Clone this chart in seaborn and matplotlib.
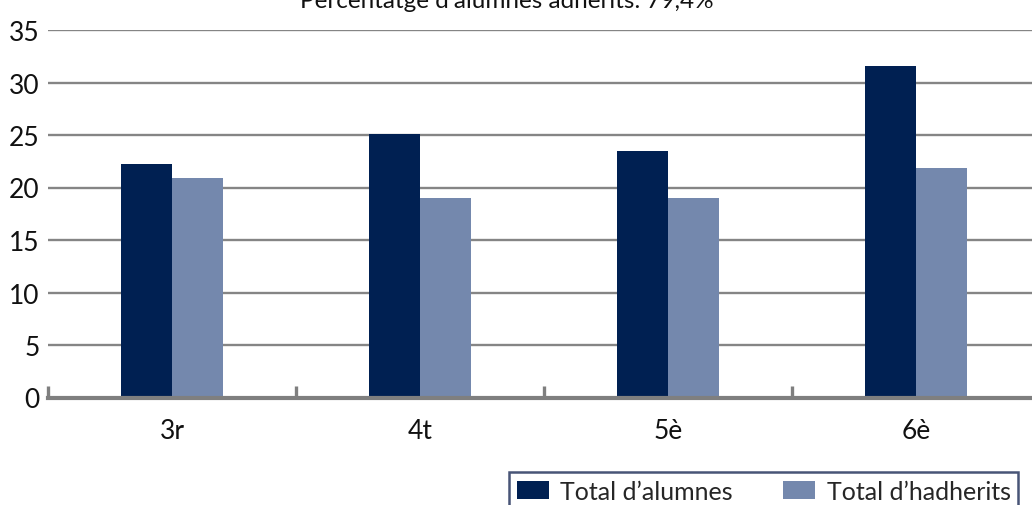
import pandas as pd
import matplotlib.pyplot as plt
import seaborn as sns

# Dades llegides del gràfic
cursos = ["3r", "4t", "5è", "6è"]
total_alumnes = [22.2, 25.1, 23.5, 31.6]
total_adherits = [20.9, 19.0, 19.0, 21.9]
series = ["Total d’alumnes", "Total d’hadherits"]
colors = ["#002052", "#7488ad"]
titol = "Percentatge d’alumnes adherits: 79,4%"

df = pd.DataFrame({
    "curs": cursos * 2,
    "valor": total_alumnes + total_adherits,
    "serie": [series[0]] * len(cursos) + [series[1]] * len(cursos),
})

sns.set_theme(style="white")
plt.rcParams["font.family"] = ["Lato", "DejaVu Sans"]

fig = plt.figure(figsize=(10.32, 5.06), dpi=100)
ax = fig.add_axes([48 / 1032, 107.5 / 506, 992 / 1032, 367.5 / 506])

sns.barplot(data=df, x="curs", y="valor", hue="serie", palette=colors,
            width=0.415, saturation=1, linewidth=0, edgecolor="none",
            ax=ax, legend=True)

ax.set_ylim(0, 35)
ax.set_xlim(-0.5, 3.5)
ax.set_yticks(range(0, 36, 5))
ax.yaxis.grid(True, color="#858585", linewidth=1.7)
ax.set_axisbelow(True)
ax.set_xlabel("")
ax.set_ylabel("")

for s in ["top", "right", "left"]:
    ax.spines[s].set_visible(False)
ax.spines["bottom"].set_color("#7f7f7f")
ax.spines["bottom"].set_linewidth(3)

ax.tick_params(axis="y", length=0, pad=6, labelsize=19, labelcolor="#111111")
ax.tick_params(axis="x", which="major", length=0, pad=15, labelsize=19,
               labelcolor="#111111")
ax.set_xticks([-0.5, 0.5, 1.5, 2.5, 3.5], minor=True)
ax.tick_params(axis="x", which="minor", bottom=True, direction="in", length=9,
               width=2.4, color="#7f7f7f")

# llegenda
h, l = ax.get_legend_handles_labels()
ax.get_legend().remove()
leg = fig.legend(h, l, loc="upper left", bbox_to_anchor=(509 / 1032, 1 - 473 / 506),
                 ncol=2, frameon=True, fancybox=False, fontsize=18,
                 handlelength=1.3, handleheight=0.7, columnspacing=2.0,
                 handletextpad=0.45, borderpad=0.3, borderaxespad=0)
leg.get_frame().set_edgecolor("#1a2a55")
leg.get_frame().set_linewidth(1.8)

fig.text(507 / 1032, 1 - 8 / 506, titol, ha="center", va="baseline",
         fontsize=17.5, color="#111111")

fig.savefig("out.png", dpi=100)
